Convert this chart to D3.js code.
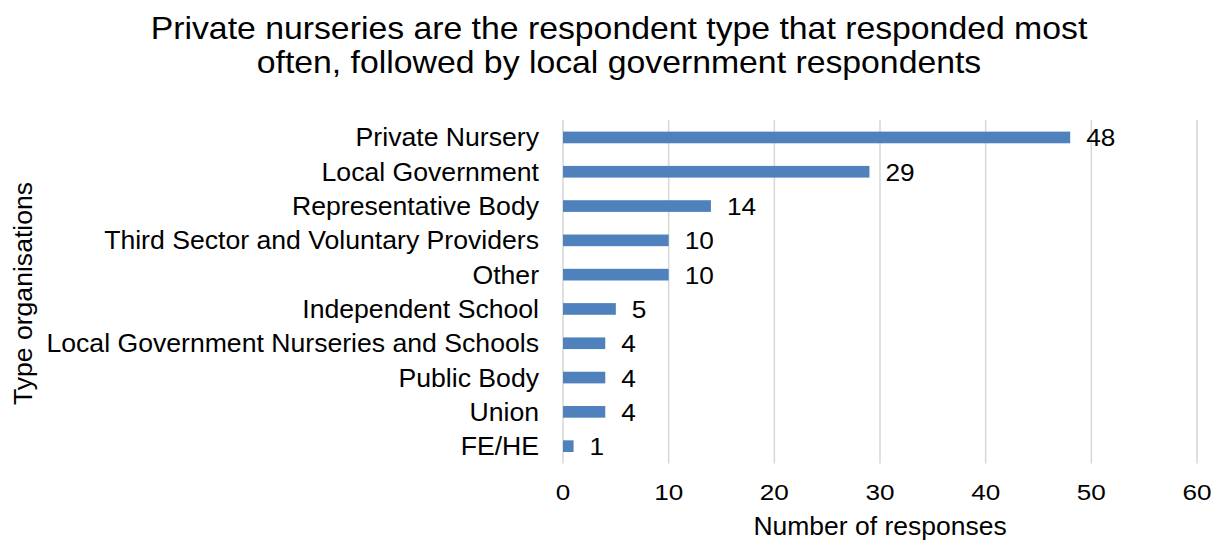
<!DOCTYPE html>
<html>
<head>
<meta charset="utf-8">
<script src="https://cdn.jsdelivr.net/npm/d3@7"></script>
<style>
  html, body { margin: 0; padding: 0; background: #fff; }
  svg { display: block; }
  text { font-family: "Liberation Sans", Arial, sans-serif; fill: #000; }
</style>
</head>
<body>
<svg id="chart" width="1214" height="543"></svg>
<script>
const categories = [
  "Private Nursery",
  "Local Government",
  "Representative Body",
  "Third Sector and Voluntary Providers",
  "Other",
  "Independent School",
  "Local Government Nurseries and Schools",
  "Public Body",
  "Union",
  "FE/HE"
];
const values = [48, 29, 14, 10, 10, 5, 4, 4, 4, 1];
const xTicks = [0, 10, 20, 30, 40, 50, 60];
const titleLines = [
  "Private nurseries are the respondent type that responded most",
  "often, followed by local government respondents"
];
const xTitle = "Number of responses";
const yTitle = "Type organisations";

const svg = d3.select("#chart");
const x = d3.scaleLinear().domain([0, 60]).range([563, 1197]);
const y = d3.scaleBand().domain(categories).range([120.3, 463.3])
  .paddingInner(0.66).paddingOuter(0.33);

// gridlines
svg.append("g").selectAll("line").data(xTicks).join("line")
  .attr("x1", d => x(d)).attr("x2", d => x(d))
  .attr("y1", 120).attr("y2", 463.5)
  .attr("stroke", "#d9d9d9").attr("stroke-width", 1.6);

// bars
svg.append("g").selectAll("rect").data(values).join("rect")
  .attr("x", x(0))
  .attr("y", (d, i) => y(categories[i]))
  .attr("width", d => x(d) - x(0))
  .attr("height", y.bandwidth())
  .attr("fill", "#4f81bd");

const cy = c => y(c) + y.bandwidth() / 2;

// value labels
svg.append("g").selectAll("text").data(values).join("text")
  .attr("transform", (d, i) => `translate(${x(d) + 16},${cy(categories[i]) + 9}) scale(1.07,1)`)
  .attr("font-size", 24.5)
  .text(d => d);

// category labels
svg.append("g").selectAll("text").data(categories).join("text")
  .attr("transform", c => `translate(539,${cy(c) + 9}) scale(1.065,1)`)
  .attr("text-anchor", "end")
  .attr("font-size", 25)
  .text(c => c);

// tick labels
svg.append("g").selectAll("text").data(xTicks).join("text")
  .attr("transform", d => `translate(${x(d)},500) scale(1.16,1)`)
  .attr("text-anchor", "middle")
  .attr("font-size", 22.5)
  .text(d => d);

// title
svg.append("g").selectAll("text").data(titleLines).join("text")
  .attr("transform", (d, i) => `translate(619,${39 + i * 34}) scale(1.1,1)`)
  .attr("text-anchor", "middle")
  .attr("font-size", 30.7)
  .text(d => d);

// x axis title
svg.append("text")
  .attr("transform", `translate(${(x(0) + x(60)) / 2},535) scale(1.06,1)`)
  .attr("text-anchor", "middle")
  .attr("font-size", 25)
  .text(xTitle);

// y axis title
svg.append("text")
  .attr("transform", `translate(32,${(120 + 463) / 2 + 2}) rotate(-90)`)
  .attr("text-anchor", "middle")
  .attr("font-size", 26.6)
  .text(yTitle);
</script>
</body>
</html>
